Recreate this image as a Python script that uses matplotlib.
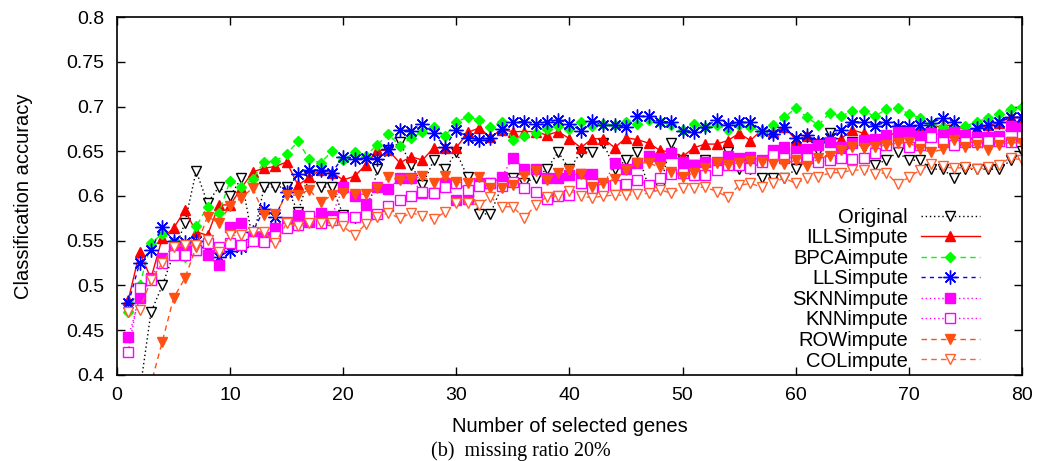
import matplotlib
matplotlib.use("Agg")
import matplotlib.pyplot as plt

plt.rcParams['font.family'] = ['Liberation Sans', 'DejaVu Sans']

genes = list(range(1, 81))

original = [0.33, 0.38, 0.47, 0.50, 0.535, 0.57, 0.628, 0.592, 0.61, 0.60,
            0.62, 0.55, 0.61, 0.61, 0.61, 0.582, 0.622, 0.61, 0.61, 0.579,
            0.575, 0.571, 0.63, 0.651, 0.66, 0.635, 0.612, 0.64, 0.63, 0.649,
            0.621, 0.58, 0.58, 0.61, 0.62, 0.615, 0.62, 0.63, 0.649, 0.63,
            0.649, 0.649, 0.659, 0.63, 0.64, 0.649, 0.61, 0.61, 0.659, 0.64,
            0.635, 0.64, 0.629, 0.649, 0.63, 0.63, 0.62, 0.62, 0.62, 0.63,
            0.64, 0.65, 0.67, 0.643, 0.66, 0.655, 0.635, 0.64, 0.649, 0.64,
            0.64, 0.63, 0.63, 0.62, 0.63, 0.63, 0.63, 0.63, 0.64, 0.65]

illsimpute = [0.484, 0.537, 0.508, 0.553, 0.564, 0.584, 0.56, 0.556, 0.59, 0.59,
              0.609, 0.627, 0.631, 0.633, 0.638, 0.612, 0.621, 0.629, 0.626, 0.618,
              0.622, 0.635, 0.651, 0.651, 0.637, 0.644, 0.64, 0.654, 0.654, 0.654,
              0.671, 0.676, 0.666, 0.674, 0.672, 0.672, 0.672, 0.668, 0.672, 0.664,
              0.654, 0.664, 0.664, 0.654, 0.665, 0.663, 0.659, 0.651, 0.649, 0.644,
              0.654, 0.658, 0.658, 0.662, 0.670, 0.662, 0.674, 0.672, 0.677, 0.663,
              0.667, 0.662, 0.664, 0.664, 0.674, 0.670, 0.665, 0.668, 0.670, 0.672,
              0.675, 0.676, 0.679, 0.679, 0.674, 0.675, 0.679, 0.682, 0.688, 0.688]

bpcaimpute = [0.470, 0.50, 0.547, 0.558, 0.55, 0.532, 0.566, 0.588, 0.581, 0.617,
              0.61, 0.619, 0.638, 0.639, 0.647, 0.661, 0.641, 0.637, 0.650, 0.64,
              0.649, 0.645, 0.657, 0.669, 0.656, 0.665, 0.672, 0.677, 0.667, 0.683,
              0.688, 0.685, 0.677, 0.683, 0.663, 0.667, 0.670, 0.675, 0.678, 0.675,
              0.683, 0.678, 0.681, 0.679, 0.683, 0.681, 0.685, 0.683, 0.679, 0.674,
              0.681, 0.677, 0.679, 0.674, 0.679, 0.677, 0.672, 0.679, 0.688, 0.698,
              0.688, 0.679, 0.693, 0.689, 0.695, 0.695, 0.689, 0.697, 0.698, 0.692,
              0.687, 0.679, 0.677, 0.676, 0.678, 0.683, 0.687, 0.692, 0.697, 0.699]

llsimpute = [0.48, 0.525, 0.54, 0.565, 0.55, 0.549, 0.55, 0.543, 0.532, 0.539,
             0.543, 0.56, 0.585, 0.577, 0.605, 0.625, 0.629, 0.629, 0.626, 0.644,
             0.641, 0.643, 0.641, 0.652, 0.674, 0.673, 0.681, 0.67, 0.655, 0.674,
             0.665, 0.663, 0.665, 0.675, 0.683, 0.683, 0.681, 0.683, 0.685, 0.681,
             0.673, 0.684, 0.679, 0.679, 0.677, 0.689, 0.689, 0.683, 0.683, 0.673,
             0.672, 0.677, 0.685, 0.679, 0.683, 0.683, 0.673, 0.669, 0.677, 0.665,
             0.668, 0.66, 0.665, 0.674, 0.683, 0.683, 0.678, 0.683, 0.678, 0.678,
             0.679, 0.682, 0.687, 0.683, 0.665, 0.676, 0.679, 0.683, 0.688, 0.688]

sknnimpute = [0.442, 0.486, 0.508, 0.531, 0.543, 0.542, 0.540, 0.534, 0.523, 0.565,
              0.57, 0.554, 0.554, 0.564, 0.571, 0.579, 0.571, 0.581, 0.578, 0.61,
              0.60, 0.591, 0.61, 0.608, 0.62, 0.62, 0.603, 0.603, 0.614, 0.595,
              0.597, 0.614, 0.614, 0.621, 0.643, 0.63, 0.63, 0.62, 0.62, 0.623,
              0.625, 0.625, 0.612, 0.637, 0.63, 0.637, 0.645, 0.642, 0.648, 0.638,
              0.635, 0.638, 0.638, 0.645, 0.642, 0.644, 0.64, 0.651, 0.655, 0.650,
              0.653, 0.657, 0.66, 0.655, 0.659, 0.663, 0.664, 0.668, 0.671, 0.671,
              0.667, 0.670, 0.668, 0.671, 0.668, 0.666, 0.666, 0.667, 0.678, 0.676]

knnimpute = [0.426, 0.497, 0.506, 0.525, 0.534, 0.534, 0.54, 0.547, 0.543, 0.547,
             0.545, 0.55, 0.549, 0.555, 0.564, 0.568, 0.578, 0.57, 0.573, 0.577,
             0.577, 0.579, 0.58, 0.589, 0.596, 0.60, 0.605, 0.603, 0.61, 0.614,
             0.607, 0.611, 0.614, 0.611, 0.616, 0.609, 0.605, 0.597, 0.60, 0.601,
             0.614, 0.609, 0.61, 0.612, 0.613, 0.618, 0.612, 0.62, 0.625, 0.626,
             0.624, 0.623, 0.629, 0.635, 0.635, 0.631, 0.638, 0.646, 0.643, 0.643,
             0.642, 0.638, 0.64, 0.643, 0.641, 0.642, 0.648, 0.657, 0.66, 0.655,
             0.657, 0.666, 0.66, 0.657, 0.66, 0.66, 0.662, 0.662, 0.66, 0.667]

rowimpute = [0.30, 0.34, 0.39, 0.437, 0.486, 0.508, 0.543, 0.577, 0.57, 0.589,
             0.598, 0.609, 0.579, 0.58, 0.601, 0.601, 0.607, 0.593, 0.601, 0.603,
             0.602, 0.602, 0.609, 0.621, 0.618, 0.619, 0.622, 0.614, 0.622, 0.616,
             0.614, 0.621, 0.609, 0.609, 0.612, 0.622, 0.628, 0.618, 0.626, 0.629,
             0.625, 0.61, 0.614, 0.619, 0.629, 0.637, 0.637, 0.632, 0.627, 0.621,
             0.626, 0.631, 0.637, 0.635, 0.637, 0.639, 0.638, 0.636, 0.636, 0.64,
             0.633, 0.642, 0.645, 0.651, 0.655, 0.654, 0.655, 0.657, 0.659, 0.66,
             0.652, 0.649, 0.652, 0.663, 0.655, 0.657, 0.651, 0.657, 0.66, 0.659]

colimpute = [0.47, 0.473, 0.506, 0.525, 0.543, 0.545, 0.545, 0.551, 0.537, 0.556,
             0.556, 0.56, 0.56, 0.547, 0.57, 0.566, 0.57, 0.57, 0.57, 0.566,
             0.556, 0.569, 0.577, 0.581, 0.575, 0.581, 0.578, 0.574, 0.582, 0.592,
             0.592, 0.59, 0.599, 0.588, 0.588, 0.575, 0.59, 0.599, 0.60, 0.606,
             0.60, 0.598, 0.60, 0.601, 0.601, 0.602, 0.603, 0.607, 0.603, 0.609,
             0.609, 0.61, 0.605, 0.599, 0.612, 0.614, 0.61, 0.615, 0.62, 0.614,
             0.62, 0.621, 0.626, 0.626, 0.629, 0.629, 0.625, 0.626, 0.613, 0.621,
             0.629, 0.636, 0.633, 0.631, 0.632, 0.63, 0.632, 0.635, 0.643, 0.64]

fig = plt.figure(figsize=(10.41, 4.61), dpi=100)
ax = fig.add_axes([0.1124, 0.1866, 0.8693, 0.7765])

dot = (0, (1, 2))
ms = 7
ax.plot(genes, original, color='black', ls=dot, lw=1, marker='v', ms=ms,
        mfc='white', mec='black', label='Original')
ax.plot(genes, illsimpute, color='red', ls='-', lw=1, marker='^', ms=ms,
        mfc='red', mec='red', label='ILLSimpute')
ax.plot(genes, bpcaimpute, color='#00ff00', ls=(0, (4, 3)), lw=1, marker='D',
        ms=5.5, mfc='#00ff00', mec='#00ff00', label='BPCAimpute')
ax.plot(genes, llsimpute, color='blue', ls=(0, (3, 3)), lw=1, marker=(8, 2, 0),
        ms=10, mew=1, mec='blue', label='LLSimpute')
ax.plot(genes, sknnimpute, color='#ff00ff', ls=dot, lw=1, marker='s', ms=ms,
        mfc='#ff00ff', mec='#ff00ff', label='SKNNimpute')
ax.plot(genes, knnimpute, color='#ff00ff', ls=dot, lw=1, marker='s', ms=ms,
        mfc='white', mec='#ff00ff', label='KNNimpute')
ax.plot(genes, rowimpute, color='#ff5014', ls=(0, (4, 3)), lw=1, marker='v',
        ms=ms, mfc='#ff5014', mec='#ff5014', label='ROWimpute')
ax.plot(genes, colimpute, color='#ff6030', ls=(0, (4, 3)), lw=1, marker='v',
        ms=ms, mfc='white', mec='#ff6030', label='COLimpute')

ax.set_xlim(0, 80)
ax.set_ylim(0.4, 0.8)
ax.set_xticks(range(0, 81, 10))
ax.set_yticks([0.4, 0.45, 0.5, 0.55, 0.6, 0.65, 0.7, 0.75, 0.8])
ax.set_yticklabels(['0.4', '0.45', '0.5', '0.55', '0.6', '0.65', '0.7', '0.75', '0.8'])
ax.tick_params(direction='in', top=True, right=True, length=6, width=1,
               labelsize=14, pad=9)
for sp in ax.spines.values():
    sp.set_linewidth(1.2)

ax.set_xlabel('Number of selected genes', fontsize=14.5, labelpad=9)
ax.set_ylabel('Classification accuracy', fontsize=14.5, labelpad=24)

ax.legend(loc='lower right', bbox_to_anchor=(0.962, -0.01), frameon=False,
          markerfirst=False, numpoints=1, fontsize=14.5, handlelength=2.9,
          labelspacing=0.075, borderaxespad=0, handletextpad=0.65)

fig.text(0.5, 0.022, '(b)  missing ratio 20%', ha='center', va='center',
         family=['Liberation Serif', 'DejaVu Serif'], fontsize=14.5)

fig.savefig('out.png', dpi=100)
